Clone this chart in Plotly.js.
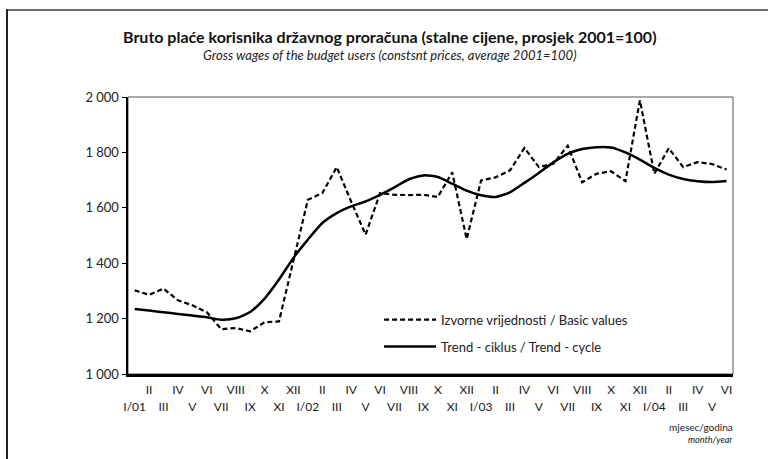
<!DOCTYPE html>
<html>
<head>
<meta charset="utf-8">
<script src="https://cdn.plot.ly/plotly-3.0.1.min.js"></script>
<style>
  html, body { margin: 0; padding: 0; background: #fff; }
  #wrap { position: relative; width: 768px; height: 459px; }
  #chart { width: 768px; height: 459px; }
  #frameTop { position: absolute; left: 7px; top: 9px; width: 761px; height: 0; border-top: 2px solid #6e6e6e; }
  #frameLeft { position: absolute; left: 6px; top: 9px; width: 0; height: 450px; border-left: 2px solid #222; }
</style>
</head>
<body>
<div id="wrap">
  <div id="chart"></div>
  <div id="frameTop"></div>
  <div id="frameLeft"></div>
</div>
<script>
// Month labels, January 2001 .. June 2004
const months = [
  "I/01","II","III","IV","V","VI","VII","VIII","IX","X","XI","XII",
  "I/02","II","III","IV","V","VI","VII","VIII","IX","X","XI","XII",
  "I/03","II","III","IV","V","VI","VII","VIII","IX","X","XI","XII",
  "I/04","II","III","IV","V","VI"
];

// Izvorne vrijednosti / Basic values
const basicValues = [
  1302, 1286, 1308, 1266, 1248, 1223, 1162, 1166, 1154, 1187, 1190, 1412,
  1629, 1653, 1747, 1622, 1503, 1653, 1647, 1646, 1647, 1639, 1728, 1487,
  1699, 1710, 1735, 1816, 1747, 1759, 1824, 1692, 1723, 1732, 1696, 1988,
  1723, 1815, 1747, 1765, 1758, 1738
];

// Trend - ciklus / Trend - cycle
const trendValues = [
  1235, 1229, 1223, 1217, 1211, 1205, 1196, 1201, 1224, 1272, 1341, 1419,
  1485, 1545, 1581, 1605, 1623, 1647, 1674, 1703, 1717, 1711, 1687, 1662,
  1645, 1639, 1656, 1690, 1726, 1764, 1795, 1812, 1819, 1818, 1800, 1774,
  1744, 1720, 1704, 1696, 1693, 1697
];

const yTicks = [1000, 1200, 1400, 1600, 1800, 2000];
const yTickText = ["1 000", "1 200", "1 400", "1 600", "1 800", "2 000"];

const idx = months.map((m, i) => i);
const row1Vals = idx.filter(i => i % 2 === 1);
const row1Text = row1Vals.map(i => months[i]);
const row2Vals = idx.filter(i => i % 2 === 0);
const row2Text = row2Vals.map(i => months[i]);

const FONT = "Lato, 'Open Sans', sans-serif";
const xRange = [-0.46, 41.45];

const traces = [
  {
    x: idx, y: basicValues, type: "scatter", mode: "lines",
    name: "Izvorne vrijednosti / Basic values",
    legendgroup: "a",
    line: { color: "#000", width: 2.2, dash: "5px,3px" },
    xaxis: "x", yaxis: "y", hoverinfo: "skip"
  },
  {
    x: idx, y: trendValues, type: "scatter", mode: "lines",
    name: "Trend - ciklus / Trend - cycle",
    legendgroup: "b",
    line: { color: "#000", width: 2.5, shape: "spline", smoothing: 0.6 },
    xaxis: "x2", yaxis: "y", hoverinfo: "skip"
  }
];

const layout = {
  width: 768, height: 459,
  margin: { l: 128, r: 35, t: 97, b: 85 },
  paper_bgcolor: "#fff", plot_bgcolor: "#fff",
  font: { family: FONT, color: "#222", size: 12 },
  showlegend: true,
  legend: {
    x: 0.415, y: 0.25, xanchor: "left", yanchor: "top",
    bgcolor: "rgba(0,0,0,0)", borderwidth: 0,
    font: { family: FONT, size: 13, color: "#222" },
    traceorder: "grouped", tracegroupgap: 7, itemwidth: 52
  },
  xaxis: {
    range: xRange, showgrid: false, zeroline: false,
    showline: true, linecolor: "#000", linewidth: 2.5,
    tickmode: "array", tickvals: row1Vals, ticktext: row1Text,
    ticks: "outside", ticklen: 3, tickcolor: "rgba(0,0,0,0)",
    tickfont: { family: FONT, size: 12, color: "#222" },
    fixedrange: true
  },
  xaxis2: {
    range: xRange, overlaying: "x", anchor: "y", side: "bottom",
    showgrid: false, zeroline: false, showline: false,
    tickmode: "array", tickvals: row2Vals, ticktext: row2Text,
    ticks: "outside", ticklen: 22, tickcolor: "rgba(0,0,0,0)",
    tickfont: { family: FONT, size: 12, color: "#222" },
    fixedrange: true
  },
  yaxis: {
    range: [1000, 2000], showgrid: false, zeroline: false,
    showline: true, linecolor: "#000", linewidth: 2.5,
    tickmode: "array", tickvals: yTicks, ticktext: yTickText,
    ticks: "outside", ticklen: 4, tickwidth: 1, tickcolor: "#000",
    tickfont: { family: FONT, size: 13, color: "#222" },
    fixedrange: true
  },
  shapes: [
    { type: "rect", xref: "paper", yref: "paper", x0: 0, x1: 1, y0: 0, y1: 1,
      line: { color: "#555", width: 1 }, fillcolor: "rgba(0,0,0,0)", layer: "below" }
  ],
  annotations: [
    { xref: "paper", yref: "paper", x: 0.433, y: 1.218, xanchor: "center", yanchor: "middle",
      text: "<b>Bruto plaće korisnika državnog proračuna (stalne cijene, prosjek 2001=100)</b>",
      showarrow: false, font: { family: FONT, size: 16, color: "#111" } },
    { xref: "paper", yref: "paper", x: 0.433, y: 1.153, xanchor: "center", yanchor: "middle",
      text: "<i>Gross wages of the budget users (constsnt prices, average 2001=100)</i>",
      showarrow: false, font: { family: FONT, size: 13, color: "#222" } },
    { xref: "paper", yref: "paper", x: 1.003, y: -0.19, xanchor: "right", yanchor: "middle",
      text: "mjesec/godina", showarrow: false, font: { family: FONT, size: 10, color: "#222" } },
    { xref: "paper", yref: "paper", x: 1.003, y: -0.235, xanchor: "right", yanchor: "middle",
      text: "<i>month/year</i>", showarrow: false, font: { family: FONT, size: 9, color: "#222" } }
  ]
};

Plotly.newPlot("chart", traces, layout, { displayModeBar: false, staticPlot: true });
</script>
</body>
</html>
